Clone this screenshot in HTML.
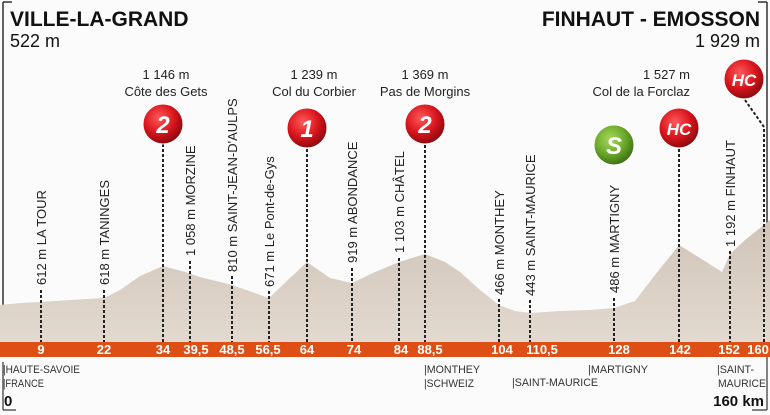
<!DOCTYPE html>
<html><head><meta charset="utf-8"><style>
html,body{margin:0;padding:0;background:#fbfbfb;}
svg{display:block;}
.n{font-family:"Liberation Sans Narrow","Liberation Sans",sans-serif;fill:#222;}
.v{font-family:"Liberation Sans Narrow","Liberation Sans",sans-serif;font-size:13px;fill:#222;}
.k{font-family:"Liberation Sans Narrow","Liberation Sans",sans-serif;font-size:13px;font-weight:bold;fill:#fff;text-anchor:middle;}
.b{font-family:"Liberation Sans Narrow","Liberation Sans",sans-serif;font-size:11px;fill:#333;}
.d{stroke:#222;stroke-width:2;stroke-dasharray:3,2;fill:none;}
.c{font-family:"Liberation Sans",sans-serif;font-weight:bold;font-style:italic;fill:#fff;text-anchor:middle;}
</style></head><body>
<svg width="770" height="415" viewBox="0 0 770 415" xmlns="http://www.w3.org/2000/svg">
<defs>
<radialGradient id="rg" cx="40%" cy="35%" r="65%"><stop offset="0" stop-color="#ff5a5a"/><stop offset="0.6" stop-color="#d8141c"/><stop offset="1" stop-color="#8e0a10"/></radialGradient>
<radialGradient id="gg" cx="40%" cy="35%" r="65%"><stop offset="0" stop-color="#a8d85a"/><stop offset="0.6" stop-color="#6aa82a"/><stop offset="1" stop-color="#3f7215"/></radialGradient>
<linearGradient id="mt" x1="0" y1="0" x2="0" y2="1"><stop offset="0" stop-color="#d0c4b8"/><stop offset="1" stop-color="#e2d9d0"/></linearGradient>
</defs>
<rect width="770" height="415" fill="#fbfbfb"/>
<line x1="3" y1="2" x2="3" y2="342" stroke="#333" stroke-width="1.5"/>
<line x1="3" y1="2" x2="12" y2="2" stroke="#333" stroke-width="1.5"/>
<line x1="767" y1="2" x2="767" y2="342" stroke="#333" stroke-width="1.5"/>
<line x1="758" y1="2" x2="767" y2="2" stroke="#333" stroke-width="1.5"/>
<path d="M0,305 L20,303 L41,302 L70,300 L104,298 L120,290 L140,276 L163,266 L185,272 L200,277 L232,285 L269,298 L290,278 L307,262 L330,278 L352,283 L375,272 L399,262 L425,254 L445,262 L460,272 L480,290 L499,305 L515,311 L530,313 L560,311 L590,310 L614,308 L635,301 L655,275 L679,245 L700,258 L722,272 L730,254 L745,240 L770,220 L770,342 L0,342 Z" fill="url(#mt)"/>
<rect x="0" y="342" width="770" height="15" fill="#dd4f14"/>
<g class="k">
<text x="41" y="354">9</text><text x="104" y="354">22</text><text x="163" y="354">34</text><text x="196" y="354">39,5</text><text x="232" y="354">48,5</text><text x="268" y="354">56,5</text><text x="307" y="354">64</text><text x="354" y="354">74</text><text x="401" y="354">84</text><text x="430" y="354">88,5</text><text x="502" y="354">104</text><text x="542" y="354">110,5</text><text x="619" y="354">128</text><text x="680" y="354">142</text><text x="729" y="354">152</text><text x="758" y="354">160</text>
</g>
<g class="d">
<line x1="41" y1="290" x2="41" y2="342"/>
<line x1="104" y1="290" x2="104" y2="342"/>
<line x1="163" y1="144" x2="163" y2="342"/>
<line x1="190" y1="261" x2="190" y2="342"/>
<line x1="232" y1="276" x2="232" y2="342"/>
<line x1="269" y1="291" x2="269" y2="342"/>
<line x1="307" y1="149" x2="307" y2="342"/>
<line x1="352" y1="268" x2="352" y2="342"/>
<line x1="399" y1="258" x2="399" y2="342"/>
<line x1="425" y1="145" x2="425" y2="342"/>
<line x1="499" y1="299" x2="499" y2="342"/>
<line x1="530" y1="300" x2="530" y2="342"/>
<line x1="614" y1="298" x2="614" y2="342"/>
<line x1="679" y1="149" x2="679" y2="342"/>
<line x1="730" y1="251" x2="730" y2="342"/>
<polyline points="745,100 764,127 764,342"/>
</g>
<g class="v">
<text transform="translate(46,285) rotate(-90)">612 m LA TOUR</text>
<text transform="translate(109,285) rotate(-90)">618 m TANINGES</text>
<text transform="translate(195,256) rotate(-90)">1 058 m MORZINE</text>
<text transform="translate(237,272) rotate(-90)">810 m SAINT-JEAN-D'AULPS</text>
<text transform="translate(274,287) rotate(-90)">671 m Le Pont-de-Gys</text>
<text transform="translate(357,263) rotate(-90)">919 m ABONDANCE</text>
<text transform="translate(404,253) rotate(-90)">1 103 m CHÂTEL</text>
<text transform="translate(504,295) rotate(-90)">466 m MONTHEY</text>
<text transform="translate(535,296) rotate(-90)">443 m SAINT-MAURICE</text>
<text transform="translate(619,293) rotate(-90)">486 m MARTIGNY</text>
<text transform="translate(735,247) rotate(-90)">1 192 m FINHAUT</text>
</g>
<g class="n" font-size="13" text-anchor="middle">
<text x="166" y="79">1 146 m</text><text x="166" y="96">Côte des Gets</text>
<text x="314" y="79">1 239 m</text><text x="314" y="96">Col du Corbier</text>
<text x="425" y="79">1 369 m</text><text x="425" y="96">Pas de Morgins</text>
<text x="690" y="79" text-anchor="end">1 527 m</text><text x="690" y="96" text-anchor="end">Col de la Forclaz</text>
</g>
<circle cx="163" cy="124" r="20" fill="url(#rg)" stroke="#fff" stroke-width="1"/><text class="c" x="163" y="133" font-size="24">2</text>
<circle cx="307" cy="128" r="20" fill="url(#rg)" stroke="#fff" stroke-width="1"/><text class="c" x="307" y="137" font-size="24">1</text>
<circle cx="425" cy="124" r="20" fill="url(#rg)" stroke="#fff" stroke-width="1"/><text class="c" x="425" y="133" font-size="24">2</text>
<circle cx="614" cy="145" r="20" fill="url(#gg)" stroke="#fff" stroke-width="1"/><text class="c" x="614" y="154" font-size="24">S</text>
<circle cx="679" cy="128" r="20" fill="url(#rg)" stroke="#fff" stroke-width="1"/><text class="c" x="679" y="135" font-size="17">HC</text>
<circle cx="744" cy="79" r="20" fill="url(#rg)" stroke="#fff" stroke-width="1"/><text class="c" x="744" y="86" font-size="17">HC</text>
<text x="10" y="26" font-family="Liberation Sans,sans-serif" font-weight="bold" font-size="21" fill="#111">VILLE-LA-GRAND</text>
<text x="10" y="47" font-family="Liberation Sans,sans-serif" font-size="18" fill="#111">522 m</text>
<text x="760" y="26" text-anchor="end" font-family="Liberation Sans,sans-serif" font-weight="bold" font-size="21" fill="#111">FINHAUT - EMOSSON</text>
<text x="760" y="47" text-anchor="end" font-family="Liberation Sans,sans-serif" font-size="18" fill="#111">1 929 m</text>
<g class="b">
<text x="3" y="373" textLength="77" lengthAdjust="spacingAndGlyphs">|HAUTE-SAVOIE</text><text x="3" y="387" textLength="41" lengthAdjust="spacingAndGlyphs">|FRANCE</text>
<text x="424" y="373" textLength="56" lengthAdjust="spacingAndGlyphs">|MONTHEY</text><text x="424" y="387" textLength="50" lengthAdjust="spacingAndGlyphs">|SCHWEIZ</text>
<text x="512" y="386" textLength="86" lengthAdjust="spacingAndGlyphs">|SAINT-MAURICE</text>
<text x="588" y="373" textLength="60" lengthAdjust="spacingAndGlyphs">|MARTIGNY</text>
<text x="717" y="373" textLength="37" lengthAdjust="spacingAndGlyphs">|SAINT-</text><text x="718" y="387" textLength="48" lengthAdjust="spacingAndGlyphs">MAURICE</text>
</g>
<line x1="3" y1="362" x2="3" y2="410" stroke="#333" stroke-width="1.2"/>
<line x1="3" y1="410" x2="16" y2="410" stroke="#333" stroke-width="1.2"/>
<text x="4" y="406" font-family="Liberation Sans,sans-serif" font-weight="bold" font-size="15" fill="#111">0</text>
<text x="764" y="406" text-anchor="end" font-family="Liberation Sans,sans-serif" font-weight="bold" font-size="15" fill="#111">160 km</text>
<line x1="767" y1="357" x2="767" y2="410" stroke="#333" stroke-width="1.2"/>
<line x1="752" y1="410" x2="767" y2="410" stroke="#333" stroke-width="1.2"/>
</svg>
</body></html>
